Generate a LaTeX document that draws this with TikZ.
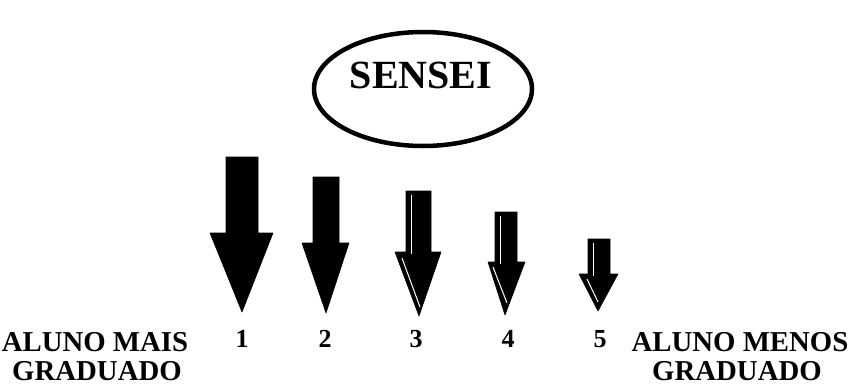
\documentclass[tikz,border=0pt]{standalone}
\usepackage{fontspec}
\setmainfont{Liberation Serif}
\begin{document}
\begin{tikzpicture}[x=1pt,y=-1pt,
  lbl/.style={font=\fontsize{28.8}{31}\selectfont\bfseries, inner sep=0, anchor=base},
  num/.style={font=\fontsize{26}{28}\selectfont\bfseries, inner sep=0, anchor=base},
  arr/.style={fill=black, draw=black, line width=0.6pt, line join=round},
  hl/.style={draw=white, line width=1pt}]
\useasboundingbox (0,0) rectangle (852,386);
% ellipse
\draw[line width=4.5pt] (423,89) ellipse [x radius=109, y radius=57];
\node[font=\fontsize{40}{44}\selectfont\bfseries, inner sep=0, anchor=base] (sensei) at (421,88) {SENSEI};
% arrows 1 and 2
\path[arr] (226,157) -- (258,157) -- (258,233) -- (273,233) -- (242,312) -- (210,233) -- (226,233) -- cycle;
\path[arr] (313,177) -- (339,177) -- (339,243) -- (349,243) -- (326,313) -- (302,243) -- (313,243) -- cycle;
% arrows 3, 4, 5 with highlight
\path[arr] (406,191) -- (431,191) -- (431,252) -- (441,252) -- (419,316) -- (395,252) -- (406,252) -- cycle;
\draw[hl] (411,195) -- (411,254);
\draw[hl] (402,258) -- (420,307);
\path[arr] (495,212) -- (517,212) -- (517,262) -- (525,262) -- (505,315) -- (488,262) -- (495,262) -- cycle;
\draw[hl] (500,216) -- (500,264);
\draw[hl] (493,267) -- (507,303);
\path[arr] (588,239) -- (610,239) -- (610,274) -- (618,274) -- (598,311) -- (579,274) -- (588,274) -- cycle;
\draw[hl] (593,243) -- (593,276);
\draw[hl] (587,279) -- (598,302);
% numbers
\node[num] (n1) at (242,347) {1};
\node[num] (n2) at (325,347) {2};
\node[num] (n3) at (416,347) {3};
\node[num] (n4) at (508,347) {4};
\node[num] (n5) at (600,347) {5};
% labels
\node[lbl] (l1a) at (95,351) {ALUNO MAIS};
\node[lbl] (l1b) at (97,380) {GRADUADO};
\node[lbl] (l2a) at (740,351) {ALUNO MENOS};
\node[lbl] (l2b) at (737,380) {GRADUADO};
\end{tikzpicture}
\end{document}
